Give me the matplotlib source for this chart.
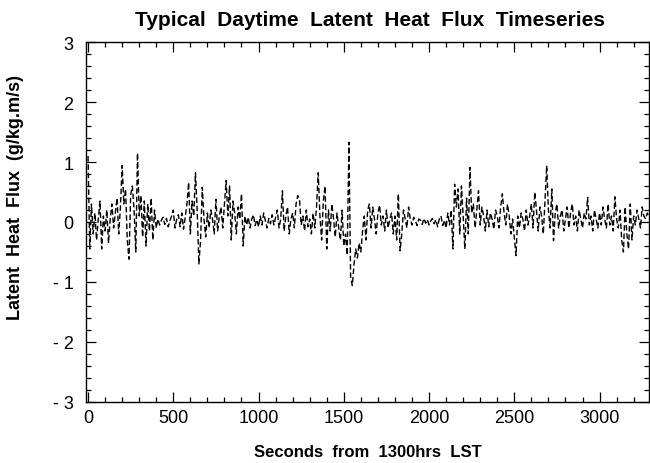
import matplotlib
matplotlib.use("Agg")
import matplotlib.pyplot as plt
from matplotlib.ticker import MultipleLocator, FixedLocator
import numpy as np

# time step of the readings (seconds) and the flux values
step_seconds = 10
flux = [
    1.10, -0.45, 0.30, -0.20, 0.15, -0.30, 0.05, 0.35, -0.45, 0.10,
    -0.15, 0.20, -0.35, 0.05, 0.30, -0.10, 0.15, 0.40, -0.20, 0.25,
    0.94, 0.30, 0.55, -0.30, -0.62, 0.45, 0.60, 0.20, -0.50, 1.15,
    0.10, 0.44, -0.25, 0.35, -0.40, 0.30, -0.15, 0.40, -0.30, 0.20,
    -0.10, 0.05, -0.05, 0.03, 0.08, -0.04, 0.06, -0.08, 0.02, 0.10,
    0.20, -0.10, 0.05, 0.12, -0.08, 0.15, -0.12, 0.08, 0.30, 0.66,
    -0.20, 0.35, 0.10, 0.82, 0.20, -0.70, -0.30, 0.58, 0.05, -0.25,
    0.15, -0.10, 0.20, 0.05, -0.20, 0.38, -0.15, 0.10, 0.25, -0.10,
    0.30, 0.69, 0.10, 0.60, -0.30, 0.35, 0.15, -0.20, 0.25, 0.05,
    0.47, -0.40, 0.10, -0.05, 0.08, -0.10, 0.05, 0.12, -0.06, 0.04,
    -0.08, 0.10, -0.05, 0.15, 0.02, -0.10, 0.06, -0.03, 0.12, -0.05,
    0.08, 0.20, -0.10, 0.05, 0.52, -0.15, 0.10, 0.25, -0.20, 0.05,
    0.15, -0.10, 0.30, 0.44, 0.38, -0.05, 0.10, -0.15, 0.20, -0.08,
    0.05, -0.20, 0.15, -0.10, 0.25, 0.82, 0.10, -0.30, 0.35, 0.60,
    -0.45, 0.20, -0.15, 0.30, 0.05, -0.25, 0.15, -0.10, -0.30, 0.20,
    -0.40, -0.20, -0.55, 1.33, -0.92, -1.06, -0.70, -0.45, -0.60, -0.35,
    -0.50, -0.15, 0.10, -0.30, 0.20, 0.30, -0.10, 0.25, 0.05, -0.20,
    0.15, 0.28, -0.05, 0.10, -0.15, 0.20, -0.10, 0.05, 0.15, -0.20,
    0.10, -0.30, 0.47, -0.48, -0.20, 0.20, 0.05, -0.10, 0.25, 0.05,
    -0.05, 0.08, 0.02, -0.06, 0.05, 0.03, -0.04, 0.06, -0.02, 0.04,
    -0.05, 0.02, 0.06, -0.03, 0.04, -0.08, 0.05, 0.10, -0.06, 0.03,
    -0.10, 0.15, -0.05, 0.20, -0.45, 0.63, 0.25, 0.55, -0.20, 0.60,
    0.10, -0.45, 0.40, -0.20, 0.91, 0.15, 0.30, -0.10, 0.20, 0.52,
    -0.05, 0.25, 0.10, -0.15, 0.20, -0.08, 0.15, 0.05, -0.12, 0.20,
    0.10, -0.10, 0.25, 0.47, 0.15, -0.05, 0.30, 0.10, -0.20, 0.05,
    -0.25, -0.56, 0.10, -0.10, 0.15, 0.05, -0.15, 0.20, -0.05, 0.10,
    0.30, -0.10, 0.50, 0.20, -0.15, 0.25, 0.10, -0.20, 0.35, 0.94,
    0.20, -0.10, 0.55, -0.31, 0.15, 0.30, -0.10, 0.10, 0.20, -0.15,
    0.05, 0.25, -0.10, 0.15, 0.30, -0.05, 0.10, -0.15, 0.20, 0.05,
    -0.10, 0.15, 0.05, 0.41, -0.05, 0.10, -0.15, 0.20, 0.05, -0.10,
    0.15, -0.05, 0.25, 0.05, -0.10, 0.30, -0.05, 0.10, -0.15, 0.42,
    0.05, -0.10, 0.20, -0.30, -0.50, 0.25, -0.20, -0.45, 0.30, -0.30,
    0.10, -0.05, 0.20, 0.05, -0.10, 0.25, 0.10, 0.05, 0.15, 0.10,
]
seconds = np.arange(len(flux)) * step_seconds

x_ticks = [0, 500, 1000, 1500, 2000, 2500, 3000]
x_tick_labels = ["0", "500", "1000", "1500", "2000", "2500", "3000"]
y_ticks = [-3, -2, -1, 0, 1, 2, 3]
y_tick_labels = ["- 3", "- 2", "- 1", "0", "1", "2", "3"]

title = "Typical  Daytime  Latent  Heat  Flux  Timeseries"
x_label = "Seconds  from  1300hrs  LST"
y_label = "Latent  Heat  Flux  (g/kg.m/s)"

plt.rcParams["font.family"] = ["Liberation Sans", "DejaVu Sans"]

fig = plt.figure(figsize=(6.5, 4.64), dpi=100)
ax = fig.add_axes([86 / 650, 61 / 464, 563 / 650, 360 / 464])

ax.plot(seconds, flux, color="black", linewidth=1.0, linestyle=(0, (4, 2)))

ax.set_xlim(-12, 3290)
ax.set_ylim(-3, 3)

ax.xaxis.set_major_locator(FixedLocator(x_ticks))
ax.set_xticklabels(x_tick_labels)
ax.xaxis.set_minor_locator(MultipleLocator(100))
ax.yaxis.set_major_locator(FixedLocator(y_ticks))
ax.set_yticklabels(y_tick_labels)
ax.yaxis.set_minor_locator(MultipleLocator(0.2))

ax.tick_params(which="both", direction="in", top=True, right=True,
               labelsize=13, width=0.9)
ax.tick_params(which="major", length=7)
ax.tick_params(which="minor", length=3.5)
ax.tick_params(axis="y", pad=9)
ax.tick_params(axis="x", pad=5)

for s in ax.spines.values():
    s.set_linewidth(1.0)

fig.text(370 / 650, 1 - 21 / 464, title, ha="center", va="center",
         fontsize=15, fontweight="bold")
ax.set_xlabel(x_label, fontsize=12, fontweight="bold")
ax.xaxis.set_label_coords(0.5, -(445 - 403) / 360)
ax.set_ylabel(y_label, fontsize=13, fontweight="bold")
ax.yaxis.set_label_coords((24 - 86) / 563, (403 - 197) / 360)

fig.savefig("out.png", dpi=100)
